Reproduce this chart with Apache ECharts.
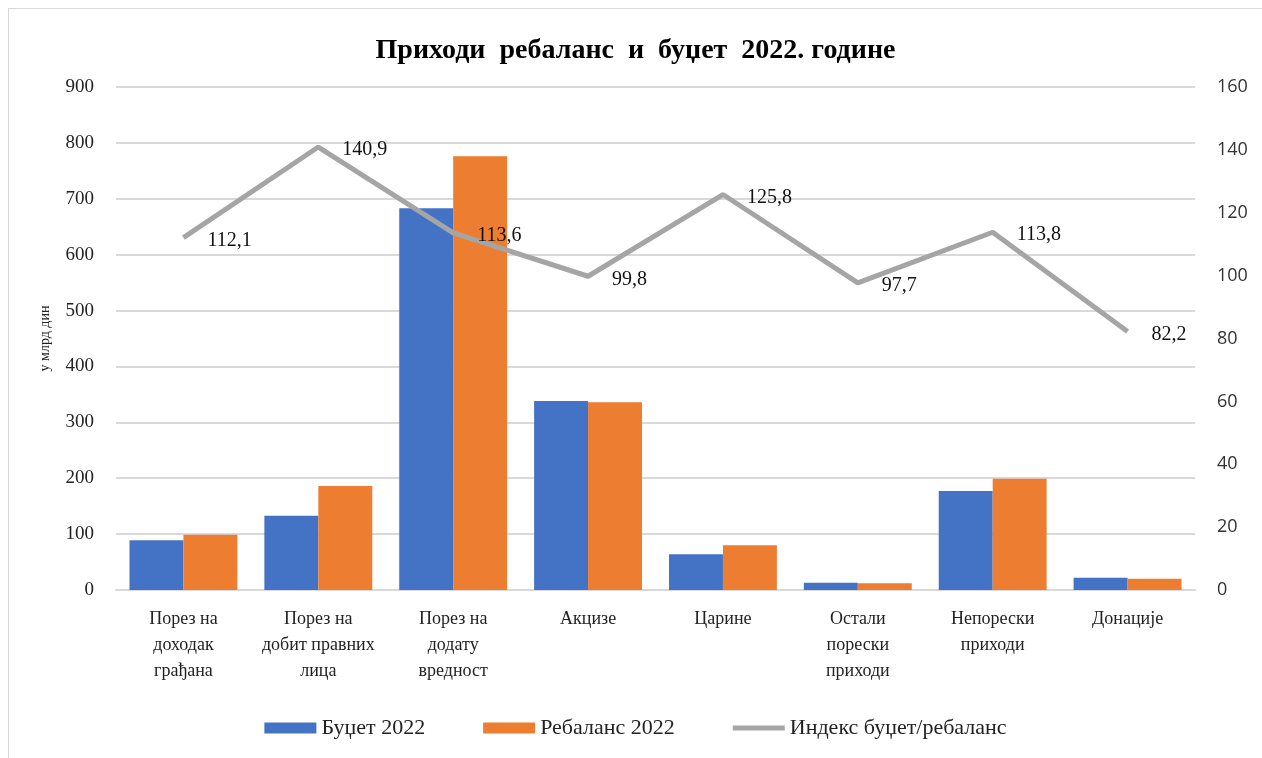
<!DOCTYPE html>
<html>
<head>
<meta charset="utf-8">
<script src="https://cdn.jsdelivr.net/npm/echarts@6/dist/echarts.min.js"></script>
<style>
html, body { margin: 0; padding: 0; background: #fff; }
#chart { position: absolute; left: 8px; top: 8px; width: 1254px; height: 750px; border-left: 1px solid #d9d9d9; border-top: 1px solid #d9d9d9; box-sizing: border-box; }
</style>
</head>
<body>
<div id="chart"></div>
<script>
var categories = [
	"Порез на\nдоходак\nграђана",
	"Порез на\nдобит правних\nлица",
	"Порез на\nдодату\nвредност",
	"Акцизе",
	"Царине",
	"Остали\nпорески\nприходи",
	"Непорески\nприходи",
	"Донације"
]
var budget = [89, 133, 683, 338, 64, 13, 177, 22]
var rebalance = [99, 186, 776, 336, 80, 12, 199, 20]
var indexValues = [112.1, 140.9, 113.6, 99.8, 125.8, 97.7, 113.8, 82.2]

var serif = "Liberation Serif"
var chart = echarts.init(document.getElementById("chart"))
chart.setOption({
	animation: false,
	title: {
		text: "Приходи  ребаланс  и  буџет  2022. године",
		left: "center",
		top: 23,
		textStyle: { fontFamily: serif, fontSize: 28, fontWeight: "bold", color: "#000" }
	},
	legend: {
		bottom: 14,
		itemGap: 58,
		itemWidth: 52,
		itemHeight: 11,
		itemStyle: { borderWidth: 0 },
		textStyle: { fontFamily: serif, fontSize: 22, color: "#222" },
		data: [
			{ name: "Буџет 2022", icon: "rect" },
			{ name: "Ребаланс 2022", icon: "rect" },
			{ name: "Индекс буџет/ребаланс", icon: "path://M0,0 L52,0 L52,5 L0,5 Z" }
		]
	},
	grid: { left: 107, right: 67, top: 78, bottom: 168 },
	xAxis: {
		type: "category",
		data: categories,
		axisLine: { lineStyle: { color: "#d9d9d9", width: 2 } },
		axisTick: { show: false },
		axisLabel: { fontFamily: serif, fontSize: 18, color: "#222", lineHeight: 26, margin: 16, interval: 0 }
	},
	yAxis: [
		{
			type: "value",
			min: 0, max: 900, interval: 100,
			name: "у млрд дин",
			nameLocation: "middle",
			nameGap: 64,
			nameTextStyle: { fontFamily: serif, fontSize: 14, color: "#222" },
			axisLabel: { fontFamily: serif, fontSize: 19, color: "#222", margin: 22 },
			splitLine: { lineStyle: { color: "#d9d9d9", width: 2 } }
		},
		{
			type: "value",
			min: 0, max: 160, interval: 20,
			axisLabel: { fontFamily: "Open Sans", fontSize: 18, color: "#333", margin: 22 },
			splitLine: { show: false }
		}
	],
	series: [
		{
			name: "Буџет 2022",
			type: "bar",
			data: budget,
			barGap: "0%",
			barCategoryGap: "20%",
			itemStyle: { color: "#4472c4" }
		},
		{
			name: "Ребаланс 2022",
			type: "bar",
			data: rebalance,
			itemStyle: { color: "#ed7d31" }
		},
		{
			name: "Индекс буџет/ребаланс",
			type: "line",
			yAxisIndex: 1,
			data: indexValues,
			symbol: "circle",
			symbolSize: 0,
			showSymbol: true,
			lineStyle: { color: "#a5a5a5", width: 5 },
			itemStyle: { color: "#a5a5a5" },
			label: {
				show: true,
				position: "right",
				distance: 24,
				offset: [0, 3],
				fontFamily: serif,
				fontSize: 20,
				color: "#111",
				formatter: function (p) { return p.value.toFixed(1).replace(".", ",") }
			}
		}
	]
})
</script>
</body>
</html>
